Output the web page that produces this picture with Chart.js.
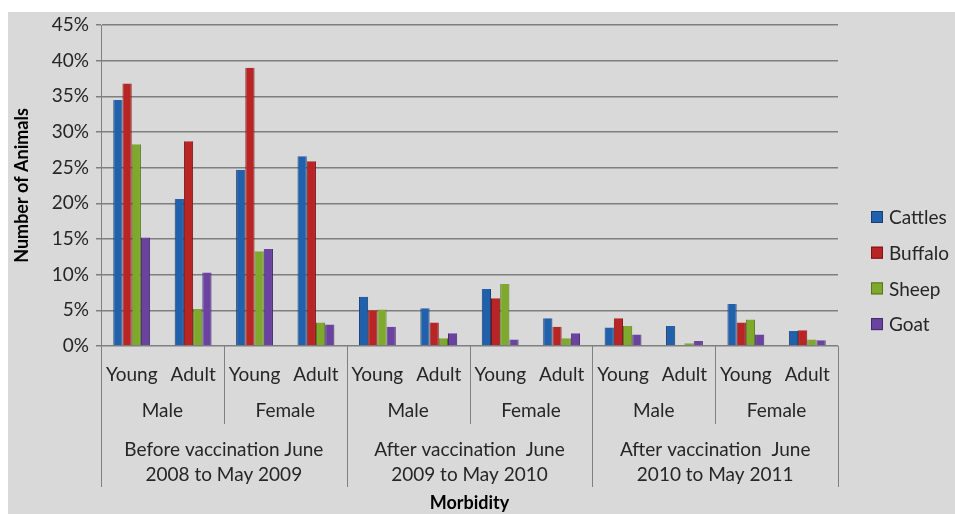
<!DOCTYPE html>
<html>
<head>
<meta charset="utf-8">
<script src="https://cdn.jsdelivr.net/npm/chart.js@4"></script>
<style>
  html, body { margin: 0; padding: 0; background: #fff; }
  #wrap { position: relative; width: 955px; height: 514px; }
  #bg { position: absolute; left: 8px; top: 12px; right: 0; bottom: 0; background: #d9d9d9; }
  canvas { position: absolute; left: 0; top: 0; }
</style>
</head>
<body>
<div id="wrap">
  <div id="bg"></div>
  <canvas id="chart" width="955" height="514"></canvas>
</div>
<script>
// ── Data ──
const ageLabels = ['Young','Adult','Young','Adult','Young','Adult','Young','Adult','Young','Adult','Young','Adult'];
const sexLabels = ['Male','Female','Male','Female','Male','Female'];
const periodLabels = [
  ['Before vaccination June', '2008 to May 2009'],
  ['After vaccination  June', '2009 to May 2010'],
  ['After vaccination  June', '2010 to May 2011']
];
const yTicks = [0, 5, 10, 15, 20, 25, 30, 35, 40, 45];

const cattles = [34.5, 20.6, 24.7, 26.6, 6.9, 5.3, 8.0, 3.9, 2.6, 2.8, 5.9, 2.1];
const buffalo = [36.8, 28.7, 39.0, 25.9, 5.0, 3.3, 6.7, 2.7, 3.9, 0, 3.3, 2.2];
const sheep   = [28.3, 5.2, 13.3, 3.3, 5.1, 1.1, 8.7, 1.1, 2.8, 0.4, 3.7, 0.9];
const goat    = [15.2, 10.3, 13.6, 3.0, 2.7, 1.8, 0.9, 1.8, 1.6, 0.7, 1.6, 0.8];

const FONT = 'Lato, "Open Sans", sans-serif';
const TXT = '#262626';
const FS = 19;

// ── Grouped x labels, separators, legend ──
const extrasPlugin = {
  id: 'extras',
  afterDraw(chart) {
    const ctx = chart.ctx;
    const xs = chart.scales.x;
    const area = chart.chartArea;
    const step = xs.getPixelForValue(1) - xs.getPixelForValue(0);
    const edge = i => xs.getPixelForValue(i) - step / 2;

    ctx.save();
    ctx.strokeStyle = '#7f7f7f';
    ctx.lineWidth = 1;
    for (let i = 0; i <= ageLabels.length; i += 2) {
      const x = Math.round(edge(i)) + 0.5;
      const long = i % 4 === 0;
      ctx.beginPath();
      ctx.moveTo(x, area.bottom);
      ctx.lineTo(x, long ? 487 : 424);
      ctx.stroke();
    }

    ctx.fillStyle = TXT;
    ctx.font = FS + 'px ' + FONT;
    ctx.textAlign = 'center';
    ctx.textBaseline = 'middle';
    sexLabels.forEach((s, k) => {
      const cx = (edge(k * 2) + edge(k * 2 + 2)) / 2;
      ctx.fillText(s, cx, 411);
    });
    periodLabels.forEach((p, k) => {
      const cx = (edge(k * 4) + edge(k * 4 + 4)) / 2;
      ctx.fillText(p[0], cx, 450);
      ctx.fillText(p[1], cx, 475);
    });

    // legend
    ctx.textAlign = 'left';
    chart.data.datasets.forEach((ds, k) => {
      const y = 217 + k * 35.7;
      ctx.fillStyle = ds.backgroundColor;
      ctx.fillRect(871, y - 6, 12, 12);
      ctx.strokeStyle = ds.borderColor;
      ctx.strokeRect(871.5, y - 5.5, 11, 11);
      ctx.fillStyle = TXT;
      ctx.fillText(ds.label, 889, y + 1);
    });
    ctx.restore();
  }
};

new Chart(document.getElementById('chart'), {
  type: 'bar',
  data: {
    labels: ageLabels,
    datasets: [
      { label: 'Cattles', data: cattles, backgroundColor: '#2160aa', borderColor: '#163f73' },
      { label: 'Buffalo', data: buffalo, backgroundColor: '#b92424', borderColor: '#7a1616' },
      { label: 'Sheep',   data: sheep,   backgroundColor: '#7fa92c', borderColor: '#56751c' },
      { label: 'Goat',    data: goat,    backgroundColor: '#6a43a0', borderColor: '#43296a' }
    ]
  },
  options: {
    responsive: false,
    animation: false,
    layout: { padding: { top: 25, right: 117, left: 0, bottom: 0 } },
    datasets: { bar: { categoryPercentage: 0.6, barPercentage: 1.0, borderWidth: { left: 1, right: 1, top: 0, bottom: 0 } } },
    plugins: { legend: { display: false }, tooltip: { enabled: false } },
    scales: {
      x: {
        afterFit: s => { s.height = 168; },
        grid: { display: false },
        border: { display: false },
        ticks: { color: TXT, font: { family: FONT, size: FS }, maxRotation: 0, autoSkip: false, padding: 9 },
        title: { display: true, text: 'Morbidity', color: '#000', font: { family: FONT, size: 18, weight: 'bold' }, padding: { top: 0, bottom: 0 } }
      },
      y: {
        min: 0, max: 45,
        afterFit: s => { s.width = 101; },
        afterBuildTicks: s => { s.ticks = yTicks.map(v => ({ value: v })); },
        grid: { color: '#7f7f7f', lineWidth: 1.5, tickLength: 5 },
        border: { color: '#7f7f7f', width: 1 },
        ticks: { color: TXT, font: { family: FONT, size: FS }, padding: 7, callback: v => v + '%' },
        title: { display: true, text: 'Number of Animals', color: '#000', font: { family: FONT, size: 18, weight: 'bold' }, padding: { top: 11, bottom: 0 } }
      }
    }
  },
  plugins: [extrasPlugin]
});
</script>
</body>
</html>
